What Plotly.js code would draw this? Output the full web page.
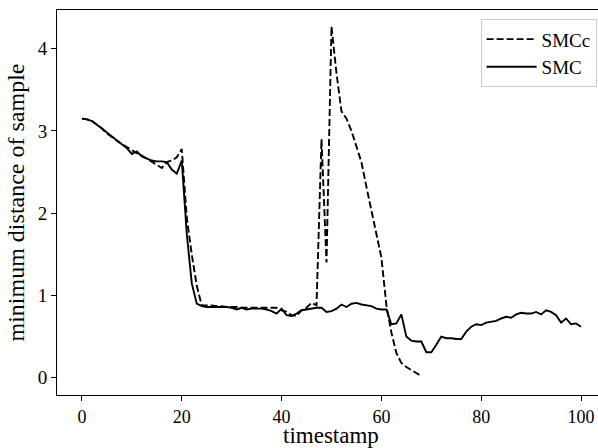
<!DOCTYPE html>
<html>
<head>
<meta charset="utf-8">
<script src="https://cdn.plot.ly/plotly-3.0.1.min.js"></script>
<style>html,body{margin:0;padding:0;background:#fff;}#chart{width:598px;height:448px;}</style>
</head>
<body>
<div id="chart"></div>
<script>
const seriesNames = ["SMCc", "SMC"];

const smcT = Array.from({length: 101}, (_, i) => i);
const smcValues = [
  3.15, 3.14, 3.12, 3.08, 3.03, 2.98, 2.93, 2.88, 2.83, 2.79,
  2.72, 2.75, 2.69, 2.66, 2.64, 2.63, 2.63, 2.62, 2.53, 2.48,
  2.64, 1.75, 1.15, 0.90, 0.87, 0.86, 0.86, 0.86, 0.86, 0.86,
  0.85, 0.83, 0.85, 0.83, 0.84, 0.84, 0.84, 0.83, 0.81, 0.78,
  0.84, 0.76, 0.75, 0.78, 0.82, 0.83, 0.84, 0.85, 0.85, 0.80,
  0.81, 0.84, 0.89, 0.86, 0.90, 0.91, 0.89, 0.88, 0.87, 0.84,
  0.83, 0.83, 0.65, 0.66, 0.77, 0.50, 0.45, 0.44, 0.44, 0.31,
  0.31, 0.40, 0.50, 0.48, 0.48, 0.47, 0.47, 0.56, 0.62, 0.65,
  0.64, 0.67, 0.68, 0.69, 0.72, 0.74, 0.73, 0.77, 0.79, 0.78,
  0.78, 0.80, 0.77, 0.82, 0.80, 0.76, 0.67, 0.72, 0.65, 0.66,
  0.62
];

const smccT = Array.from({length: 69}, (_, i) => i);
const smccValues = [
  3.15, 3.14, 3.12, 3.08, 3.03, 2.97, 2.92, 2.88, 2.84, 2.80,
  2.76, 2.73, 2.70, 2.66, 2.63, 2.58, 2.55, 2.62, 2.64, 2.68,
  2.78, 1.95, 1.50, 1.12, 0.88, 0.88, 0.88, 0.87, 0.87, 0.86,
  0.86, 0.86, 0.85, 0.85, 0.85, 0.85, 0.85, 0.85, 0.85, 0.85,
  0.82, 0.80, 0.76, 0.75, 0.82, 0.85, 0.91, 0.88, 2.90, 1.40,
  4.27, 3.70, 3.24, 3.15, 3.00, 2.82, 2.62, 2.32, 2.02, 1.75,
  1.46, 0.88, 0.55, 0.30, 0.18, 0.13, 0.09, 0.05, 0.02
];

const xTicks = [0, 20, 40, 60, 80, 100];
const yTicks = [0, 1, 2, 3, 4];
const xTitle = "timestamp";
const yTitle = "minimum distance of sample";

const fontFam = "'Liberation Serif', 'Times New Roman', serif";

const traces = [
  {x: smccT, y: smccValues, name: seriesNames[0], mode: "lines", type: "scatter",
   line: {color: "#000", width: 1.9, dash: "7px,3px"}},
  {x: smcT, y: smcValues, name: seriesNames[1], mode: "lines", type: "scatter",
   line: {color: "#000", width: 1.9}}
];

const layout = {
  width: 598, height: 448,
  margin: {l: 56.5, r: 0, t: 10, b: 53, pad: 0},
  paper_bgcolor: "#fff", plot_bgcolor: "#fff",
  font: {family: fontFam, color: "#000", size: 19},
  showlegend: true,
  legend: {x: 0.783, y: 0.976, xanchor: "left", yanchor: "top",
    bgcolor: "rgba(255,255,255,0.8)", bordercolor: "#cccccc", borderwidth: 1,
    font: {family: fontFam, size: 19, color: "#000"}, itemwidth: 50, tracegroupgap: 0},
  xaxis: {range: [-5, 103.4], tickvals: xTicks, ticktext: xTicks.map(String),
    showgrid: false, zeroline: false, showline: true, linecolor: "#000", linewidth: 1,
    mirror: true, ticks: "outside", ticklen: 5, tickwidth: 1, tickcolor: "#000",
    tickfont: {family: fontFam, size: 18, color: "#000"}},
  yaxis: {range: [-0.21, 4.47], tickvals: yTicks, ticktext: yTicks.map(String),
    showgrid: false, zeroline: false, showline: true, linecolor: "#000", linewidth: 1,
    mirror: false, ticks: "outside", ticklen: 5, tickwidth: 1, tickcolor: "#000",
    tickfont: {family: fontFam, size: 19, color: "#000"},
    title: {text: yTitle, font: {family: fontFam, size: 24, color: "#000"}, standoff: 6}},
  annotations: [{
    text: xTitle, xref: "x", x: 50, yref: "paper", y: 0,
    xanchor: "center", yanchor: "bottom", yshift: -54, showarrow: false, borderpad: 0,
    font: {family: fontFam, size: 23, color: "#000"}
  }]
};

Plotly.newPlot("chart", traces, layout, {staticPlot: true, displayModeBar: false});
</script>
</body>
</html>
